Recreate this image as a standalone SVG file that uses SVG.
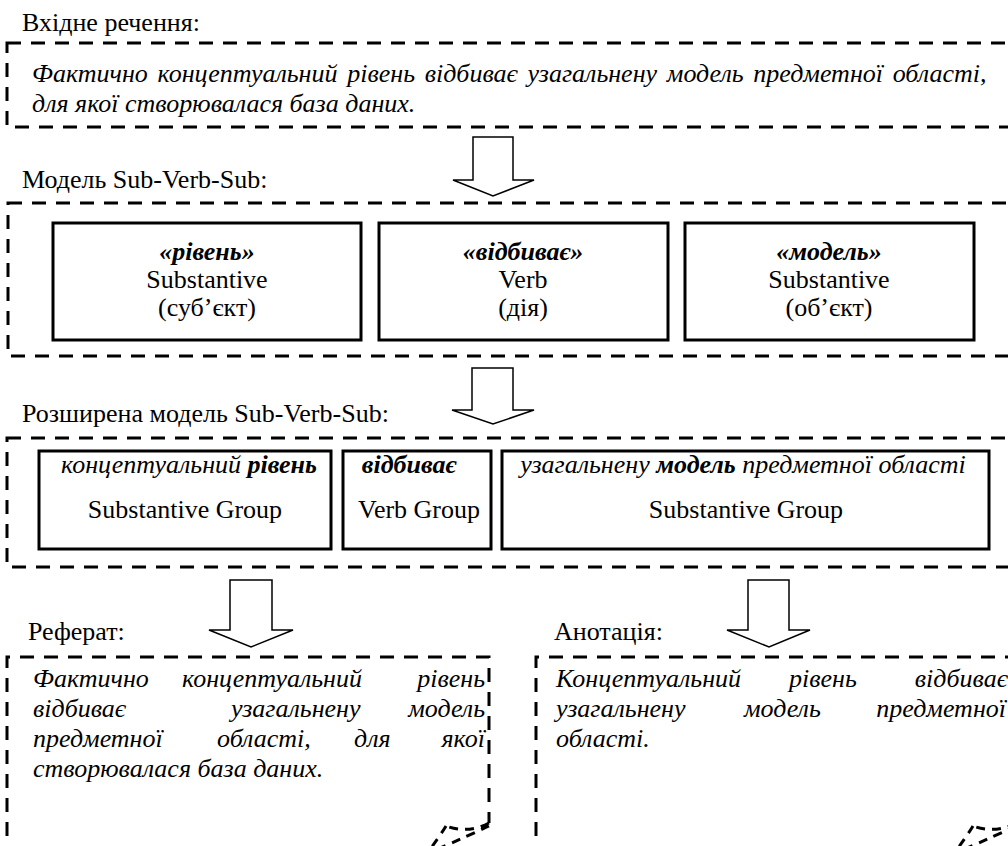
<svg xmlns="http://www.w3.org/2000/svg" width="1008" height="846" viewBox="0 0 1008 846">
<defs>
<style>
text{font-family:"Liberation Serif","Times New Roman",serif;font-size:26px;fill:#000}
.it{font-style:italic}
.bi{font-style:italic;font-weight:bold}
.c{text-anchor:middle}
.e{text-anchor:end}
.dash{fill:none;stroke:#000;stroke-width:3;stroke-dasharray:14 10}
.curl{fill:none;stroke:#000;stroke-width:3;stroke-dasharray:9 7}
.solid{fill:#fff;stroke:#000;stroke-width:3}
.arrow{fill:#fff;stroke:#000;stroke-width:1.5;stroke-linejoin:miter}
</style>
</defs>
<rect width="1008" height="846" fill="#fff"/>

<g id="input">
<text x="22" y="31">Вхідне речення:</text>
<rect class="dash" x="7" y="43" width="1013" height="84"/>
<text class="it" x="32" y="82" word-spacing="3.2">Фактично концептуальний рівень відбиває узагальнену модель предметної області,</text>
<text class="it" x="32" y="112">для якої створювалася база даних.</text>
</g>

<g id="model">
<text x="22" y="188">Модель Sub-Verb-Sub:</text>
<rect class="dash" x="8" y="203" width="1012" height="153"/>
<g id="m-sub1">
<rect class="solid" x="53" y="223" width="308" height="117"/>
<text class="bi c" x="207" y="260">«рівень»</text>
<text class="c" x="207" y="288">Substantive</text>
<text class="c" x="207" y="316">(суб’єкт)</text>
</g>
<g id="m-verb">
<rect class="solid" x="379" y="223" width="289" height="117"/>
<text class="bi c" x="523" y="260">«відбиває»</text>
<text class="c" x="523" y="288">Verb</text>
<text class="c" x="523" y="316">(дія)</text>
</g>
<g id="m-sub2">
<rect class="solid" x="685" y="223" width="289" height="117"/>
<text class="bi c" x="829" y="260">«модель»</text>
<text class="c" x="829" y="288">Substantive</text>
<text class="c" x="829" y="316">(об’єкт)</text>
</g>
</g>

<g id="extended">
<text x="22" y="422">Розширена модель Sub-Verb-Sub:</text>
<rect class="dash" x="7" y="438" width="1013" height="129"/>
<g id="e-sub1">
<rect class="solid" x="39" y="451" width="292" height="98"/>
<text class="it c" x="189" y="473">концептуальний <tspan class="bi">рівень</tspan></text>
<text class="c" x="185" y="518">Substantive Group</text>
</g>
<g id="e-verb">
<rect class="solid" x="343" y="451" width="148" height="98"/>
<text class="bi c" x="409" y="473">відбиває</text>
<text class="c" x="419" y="518">Verb Group</text>
</g>
<g id="e-sub2">
<rect class="solid" x="502" y="451" width="487" height="98"/>
<text class="it c" x="743" y="473">узагальнену <tspan class="bi">модель</tspan> предметної області</text>
<text class="c" x="746" y="518">Substantive Group</text>
</g>
</g>

<g id="referat">
<text x="28" y="640">Реферат:</text>
<path class="dash" d="M7,860 L7,657 L489,657 L489,823"/>
<path class="curl" d="M489,823 Q468,834 446,826 M446,826 Q440,836 428,852 M489,826 Q468,836 440,848"/>
<g class="it">
<text x="33" y="687">Фактично</text>
<text x="182" y="687">концептуальний</text>
<text class="e" x="485" y="687">рівень</text>
<text x="33" y="717">відбиває</text>
<text x="231" y="717">узагальнену</text>
<text class="e" x="485" y="717">модель</text>
<text x="33" y="747">предметної</text>
<text x="217" y="747">області,</text>
<text x="354" y="747">для</text>
<text class="e" x="485" y="747">якої</text>
<text x="33" y="777">створювалася база даних.</text>
</g>
</g>

<g id="annotation">
<text x="554" y="640">Анотація:</text>
<path class="dash" d="M536,860 L536,657 L1016,657 L1016,823"/>
<path class="curl" d="M1016,823 Q995,834 973,826 M973,826 Q967,836 955,852 M1016,826 Q995,836 967,848"/>
<g class="it">
<text x="556" y="687">Концептуальний</text>
<text x="789" y="687">рівень</text>
<text class="e" x="1008" y="687">відбиває</text>
<text x="556" y="717">узагальнену</text>
<text x="744" y="717">модель</text>
<text class="e" x="1006" y="717">предметної</text>
<text x="556" y="747">області.</text>
</g>
</g>

<g id="connectors">
<path class="arrow" d="M473,137 L513,137 L513,180 L534,180 L493,196 L453,180 L473,180 Z"/>
<path class="arrow" d="M472,368 L513,368 L513,410 L534,410 L493,424 L452,410 L472,410 Z"/>
<path class="arrow" d="M230,580 L272,580 L272,630 L293,630 L251,647 L209,630 L230,630 Z"/>
<path class="arrow" d="M748,580 L789,580 L789,630 L810,630 L769,647 L727,630 L748,630 Z"/>
</g>
</svg>
